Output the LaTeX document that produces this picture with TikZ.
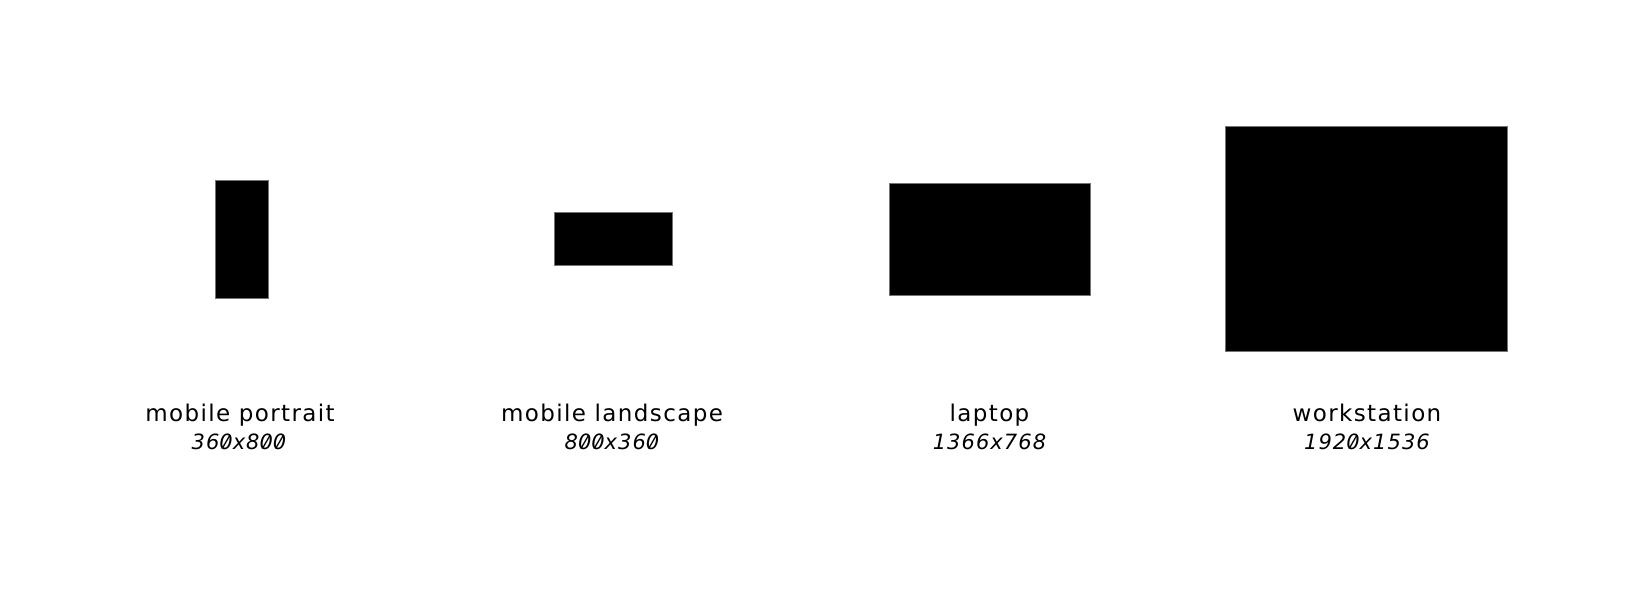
\documentclass[tikz,border=0pt]{standalone}
\usepackage{fontspec}
\usepackage{graphicx}
\setmainfont{DejaVu Sans}[LetterSpace=6]
\newfontfamily\dimfont{DejaVu Sans}[LetterSpace=5]
\newcommand\slz{\ooalign{0\cr\hidewidth\raisebox{0.08em}{\scalebox{0.9}[0.78]{/}}\hidewidth}}
\begin{document}
\begin{tikzpicture}[x=1pt,y=-1pt,
  scr/.style={rectangle, fill=black, draw=black!55, line width=0.6pt, inner sep=0pt},
  lab/.style={anchor=base, inner sep=0pt, font=\fontsize{23}{26}\selectfont},
  dim/.style={anchor=base, inner sep=0pt, font=\dimfont\itshape\fontsize{21}{24}\selectfont}]
\path[use as bounding box, fill=white] (0,0) rectangle (1650,599);
\node[scr, minimum width=53pt, minimum height=118pt] (r1) at (241.5,239) {};
\node[scr, minimum width=118pt, minimum height=53pt] (r2) at (613,238.7) {};
\node[scr, minimum width=201pt, minimum height=112pt] (r3) at (989.8,239.3) {};
\node[scr, minimum width=282pt, minimum height=225pt] (r4) at (1366.7,238.5) {};
\node[lab] (l1) at (240,421.5) {mobile portrait};
\node[dim] (d1) at (239,449.5) {36\slz x8\slz\slz};
\node[lab] (l2) at (612,421.5) {mobile landscape};
\node[dim] (d2) at (612,449.5) {8\slz\slz x36\slz};
\node[lab] (l3) at (989.5,421.5) {laptop};
\node[dim] (d3) at (989.5,449.5) {1366x768};
\node[lab] (l4) at (1367,421.5) {workstation};
\node[dim] (d4) at (1367,449.5) {192\slz x1536};
\end{tikzpicture}
\end{document}
